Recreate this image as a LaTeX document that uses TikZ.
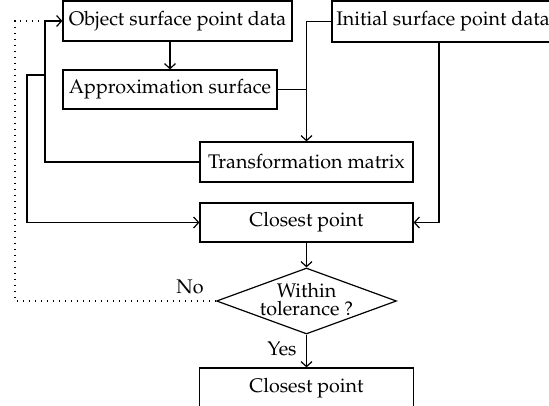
\documentclass[tikz,border=0pt]{standalone}
\usepackage[T1]{fontenc}
\usepackage{mathpazo}
\usetikzlibrary{shapes.geometric,calc,arrows.meta}
\begin{document}
\begin{tikzpicture}[x=1pt,y=-1pt,
  every node/.style={font=\fontsize{19.7}{18}\selectfont},
  box/.style={draw, line width=1.2pt, minimum height=40pt, inner sep=0pt},
  decision/.style={draw, line width=1.2pt, diamond, minimum width=180pt, minimum height=66pt, inner sep=0pt},
  conn/.style={line width=1.2pt},
  arr/.style={conn, -{Straight Barb[length=5pt,width=11pt]}},
  dots/.style={line width=1.2pt, dash pattern=on 1.2pt off 4.8pt}]
\useasboundingbox (0,0) rectangle (549,406);
\clip (0,0) rectangle (549,406);
\node[box, minimum width=229pt] (obj) at (177.5,21) {Object surface point data};
\node[box, minimum width=214pt, minimum height=39pt] (approx) at (170,89.5) {Approximation surface};
\node[box, minimum width=222pt, minimum height=41pt] (init) at (443,21.5) {Initial surface point data};
\node[box, minimum width=213pt] (trans) at (306.5,162) {Transformation matrix};
\node[box, minimum width=213pt, minimum height=39pt] (c1) at (306.5,222.5) {Closest point};
\node[decision] (dec) at (306.5,301) {};
\node[align=center] (dectext) at (306.5,299.5) {Within\\tolerance ?};
\node[box, minimum width=214pt] (c2) at (306.5,388) {Closest point};
\node (no) at (190,287) {No};
\node (yes) at (282,349) {Yes};
\coordinate (jl) at (45,75);
\coordinate (jf) at (27,75);
\coordinate (ir) at (439,42);
\coordinate (dt) at (15,21);
\draw[arr] (obj.south -| approx.north) -- (approx.north);
\draw[arr] (init.west) -| (trans.north);
\draw[conn] (approx.east) -- (approx.east -| trans.north);
\draw[arr] (trans.west) -| (jl) |- (obj.west);
\draw[arr] (jl) -- (jf) |- (c1.west);
\draw[arr] (ir) |- (c1.east);
\draw[arr] (c1.south) -- (dec.north);
\draw[arr] (dec.south) -- (c2.north);
\draw[dots] (dec.west) -| (dt) -- (jl |- obj.west);
\end{tikzpicture}
\end{document}
